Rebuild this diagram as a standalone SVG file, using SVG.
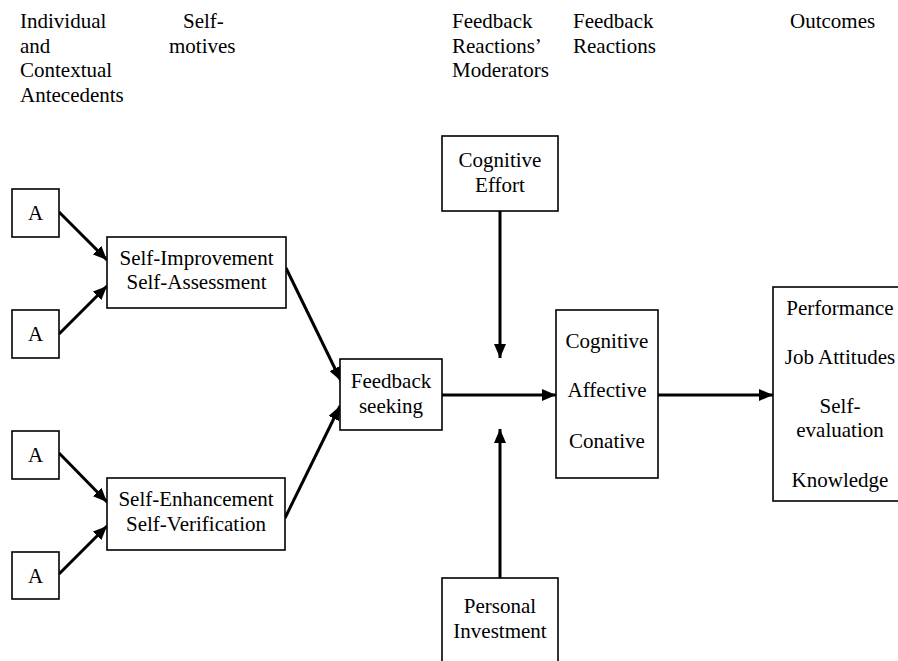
<svg xmlns="http://www.w3.org/2000/svg" width="898" height="661" viewBox="0 0 898 661" font-family="Liberation Serif, DejaVu Serif, serif">
<style>
text{font-family:'Liberation Serif','DejaVu Serif',serif;font-size:21px;fill:#000}
.c{text-anchor:middle}
.box{fill:#fff;stroke:#000;stroke-width:1.6}
.con{stroke:#000;stroke-width:3;fill:none;marker-end:url(#ah)}
</style>
<defs>
<marker id="ah" markerUnits="userSpaceOnUse" markerWidth="14" markerHeight="12" viewBox="0 0 14 12" refX="14" refY="6" orient="auto">
<path d="M0,0 L14,6 L0,12 Z" fill="#000"/>
</marker>
</defs>
<rect width="898" height="661" fill="#fff"/>
<g id="headers">
<text x="20" y="28">Individual</text>
<text x="20" y="52.5">and</text>
<text x="20" y="77">Contextual</text>
<text x="20" y="101.5">Antecedents</text>
<text x="183" y="28">Self-</text>
<text x="169" y="52.5">motives</text>
<text x="452" y="28">Feedback</text>
<text x="452" y="52.5">Reactions’</text>
<text x="452" y="77">Moderators</text>
<text x="573" y="28">Feedback</text>
<text x="573" y="52.5">Reactions</text>
<text x="790" y="28">Outcomes</text>
</g>
<g id="connectors">
<line class="con" x1="59" y1="212" x2="107" y2="260"/>
<line class="con" x1="59" y1="334" x2="107" y2="286"/>
<line class="con" x1="59" y1="453" x2="107" y2="502"/>
<line class="con" x1="59" y1="574" x2="107" y2="526"/>
<line class="con" x1="286" y1="268" x2="341" y2="381"/>
<line class="con" x1="285" y1="518" x2="340" y2="406"/>
<line class="con" x1="442" y1="395" x2="556" y2="395"/>
<line class="con" x1="658" y1="395" x2="773" y2="395"/>
<line class="con" x1="500" y1="211" x2="500" y2="358"/>
<line class="con" x1="500" y1="578" x2="500" y2="429"/>
</g>
<g id="a1"><rect class="box" x="12" y="189" width="47" height="48"/><text class="c" x="35.5" y="220">A</text></g>
<g id="a2"><rect class="box" x="12" y="310" width="47" height="48"/><text class="c" x="35.5" y="341">A</text></g>
<g id="a3"><rect class="box" x="12" y="431" width="47" height="48"/><text class="c" x="35.5" y="462">A</text></g>
<g id="a4"><rect class="box" x="12" y="552" width="47" height="47"/><text class="c" x="35.5" y="582.5">A</text></g>
<g id="self-improvement"><rect class="box" x="107" y="237" width="179" height="71"/><text class="c" x="196.5" y="265">Self-Improvement</text><text class="c" x="196.5" y="289">Self-Assessment</text></g>
<g id="self-enhancement"><rect class="box" x="107" y="478" width="178" height="72"/><text class="c" x="196" y="506">Self-Enhancement</text><text class="c" x="196" y="531">Self-Verification</text></g>
<g id="feedback-seeking"><rect class="box" x="340" y="359" width="102" height="71"/><text class="c" x="391" y="388">Feedback</text><text class="c" x="391" y="413">seeking</text></g>
<g id="cognitive-effort"><rect class="box" x="442" y="136" width="116" height="75"/><text class="c" x="500" y="167">Cognitive</text><text class="c" x="500" y="192">Effort</text></g>
<g id="personal-investment"><rect class="box" x="442" y="578" width="116" height="90"/><text class="c" x="500" y="613">Personal</text><text class="c" x="500" y="638">Investment</text></g>
<g id="reactions"><rect class="box" x="556" y="310" width="102" height="168"/><text class="c" x="607" y="348">Cognitive</text><text class="c" x="607" y="397">Affective</text><text class="c" x="607" y="448">Conative</text></g>
<g id="outcomes"><rect class="box" x="773" y="287" width="140" height="214"/><text class="c" x="840" y="315">Performance</text><text class="c" x="840" y="364">Job Attitudes</text><text class="c" x="840" y="413">Self-</text><text class="c" x="840" y="437">evaluation</text><text class="c" x="840" y="487">Knowledge</text></g>
</svg>
